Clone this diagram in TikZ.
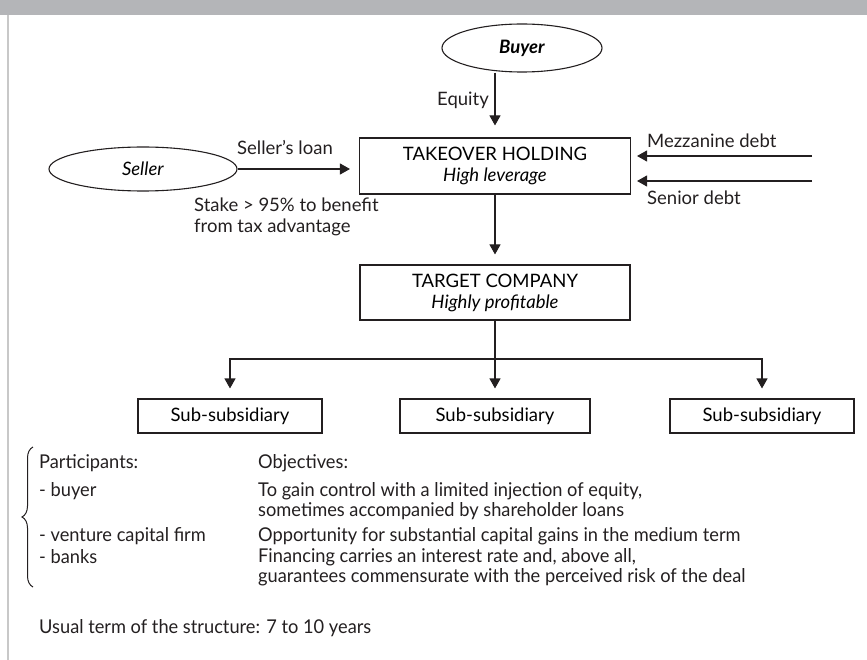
\documentclass[tikz,border=0pt]{standalone}
\usepackage{fontspec}
\setmainfont{Lato}
\newfontfamily\narrowfont[FakeStretch=0.96]{Lato}
\usetikzlibrary{shapes.geometric,arrows.meta,decorations.pathreplacing}
\definecolor{ink}{HTML}{231F20}
\definecolor{bandgrey}{HTML}{B4B5B8}
\definecolor{rulegrey}{HTML}{C8C8C8}

\begin{document}
\begin{tikzpicture}[x=1pt,y=-1pt]
		\tikzstyle{party}=[ellipse,draw=ink,line width=1.1pt,inner sep=0pt,font=\fontsize{18.5}{21}\selectfont]
		\tikzstyle{firm}=[rectangle,draw=ink,line width=1.1pt,align=center,font=\fontsize{18.5}{21}\selectfont]
		\tikzstyle{flow}=[draw=ink,line width=1.1pt,-{Triangle[length=10pt,width=11pt]}]
		\tikzstyle{label}=[inner sep=0pt,text=ink,font=\fontsize{18.5}{21}\selectfont]
		\tikzstyle{note}=[inner sep=0pt,anchor=west,align=left,text=ink,font=\narrowfont\fontsize{19}{20}\selectfont]
		\useasboundingbox (0,0) rectangle (867,660);
		% page frame
		\fill[bandgrey] (0,0) rectangle (867,15);
		\draw[rulegrey,line width=2pt] (8,15) -- (8,660);
		% parties and companies
		\node[party,minimum width=160pt,minimum height=48pt] (e_buyer) at (522,48) {\textbf{\textit{Buyer}}};
		\node[party,minimum width=188pt,minimum height=44pt] (e_seller) at (143,169) {\textit{Seller}};
		\node[firm,minimum width=271pt,minimum height=56pt] (b_holding) at (495,166) {TAKEOVER HOLDING\\\textit{High leverage}};
		\node[firm,minimum width=270pt,minimum height=55pt] (b_target) at (495,292.5) {TARGET COMPANY\\\textit{Highly profitable}};
		\node[firm,minimum width=184pt,minimum height=34pt] (b_sub_1) at (230,416) {Sub-subsidiary};
		\node[firm,minimum width=190pt,minimum height=34pt] (b_sub_2) at (495,416) {Sub-subsidiary};
		\node[firm,minimum width=184pt,minimum height=34pt] (b_sub_3) at (762,416) {Sub-subsidiary};
		\coordinate (c_mezz) at (812,156);
		\coordinate (c_senior) at (812,181);
		\coordinate (c_fork) at (495,359);
		% financing flows
		\draw[flow,shorten >=12pt] (e_buyer.south -| b_holding.north) -- (b_holding.north);
		\draw[flow,shorten >=9pt] (e_seller.east) -- (e_seller.east -| b_holding.west);
		\draw[flow,shorten >=6pt] (c_mezz) -- (c_mezz -| b_holding.east);
		\draw[flow,shorten >=6pt] (c_senior) -- (c_senior -| b_holding.east);
		\draw[flow,shorten >=10pt] (b_holding.south) -- (b_target.north);
		\draw[flow,shorten >=10pt] (b_target.south) -- (b_sub_2.north);
		\draw[flow,shorten >=10pt] (c_fork) -| (b_sub_1.north);
		\draw[flow,shorten >=10pt] (c_fork) -| (b_sub_3.north);
		\node[label,anchor=east] (t_equity) at (489,100) {Equity};
		\node[label] (t_loan) at (285,148) {Seller’s loan};
		\node[label,anchor=west,align=left] (t_stake) at (194,217) {Stake > 95\% to benefit\\from tax advantage};
		\node[label,anchor=west] (t_mezz) at (647,141) {Mezzanine debt};
		\node[label,anchor=west] (t_senior) at (647,198) {Senior debt};
		% participants and objectives
		\draw[ink,line width=1pt,decorate,decoration={brace,amplitude=11pt}] (33,587) -- (33,447);
		\node[note] (t_part) at (39,463) {Participants:};
		\node[note] (t_obj) at (258,463) {Objectives:};
		\node[note] (t_part_1) at (39,491) {- buyer};
		\node[note] (t_obj_1) at (258,501) {To gain control with a limited injection of equity,\\sometimes accompanied by shareholder loans};
		\node[note] (t_part_2) at (39,536) {- venture capital firm};
		\node[note] (t_obj_2) at (258,536) {Opportunity for substantial capital gains in the medium term};
		\node[note] (t_part_3) at (39,557) {- banks};
		\node[note] (t_obj_3) at (258,567) {Financing carries an interest rate and, above all,\\guarantees commensurate with the perceived risk of the deal};
		\node[note] (t_term) at (39,628) {Usual term of the structure: 7 to 10 years};
	\end{tikzpicture}
\end{document}
